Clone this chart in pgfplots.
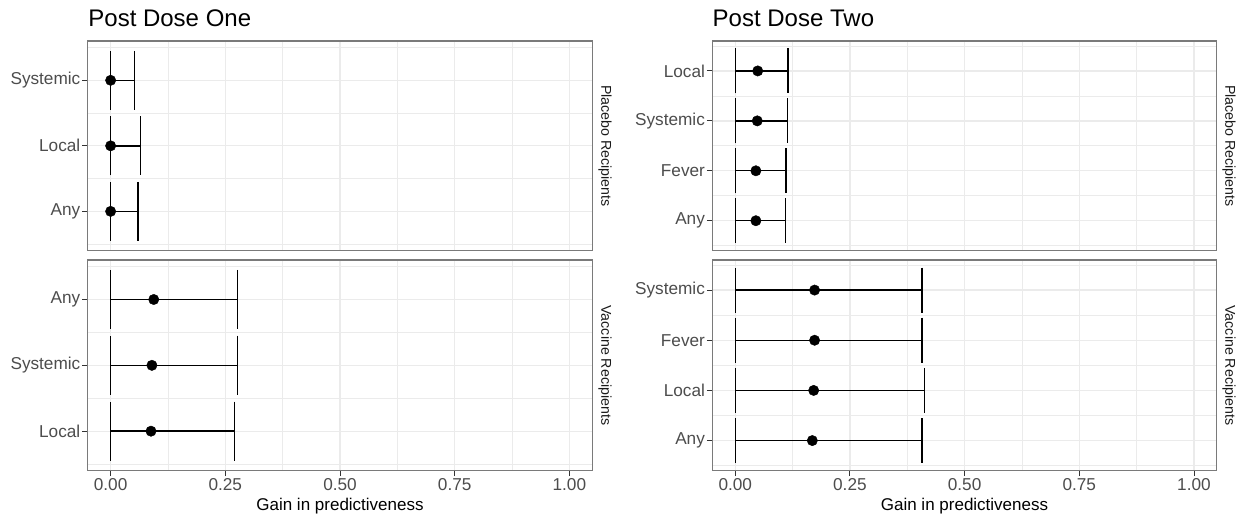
\documentclass[border=0pt]{standalone}
\usepackage{fontspec}
\setmainfont{Liberation Sans}
\usepackage{pgfplots}
\pgfplotsset{compat=1.18}
\usepackage{pgfplotstable}
\definecolor{gridc}{HTML}{EBEBEB}
\definecolor{g30}{HTML}{4D4D4D}
\definecolor{g20}{HTML}{333333}
\definecolor{bord}{HTML}{7A7A7A}
\definecolor{g10}{HTML}{1A1A1A}

% Post Dose One, Placebo: Any=1, Local=2, Systemic=3
\pgfplotstableread{
pos est lo hi
1 0.000 0 0.060
2 0.000 0 0.065
3 0.000 0 0.052
}\tabA
% Post Dose One, Vaccine: Local=1, Systemic=2, Any=3
\pgfplotstableread{
pos est lo hi
1 0.088 0 0.270
2 0.090 0 0.277
3 0.094 0 0.277
}\tabB
% Post Dose Two, Placebo: Any=1, Fever=2, Systemic=3, Local=4
\pgfplotstableread{
pos est lo hi
1 0.045 0 0.110
2 0.045 0 0.111
3 0.048 0 0.114
4 0.049 0 0.115
}\tabC
% Post Dose Two, Vaccine: Any=1, Local=2, Fever=3, Systemic=4
\pgfplotstableread{
pos est lo hi
1 0.168 0 0.407
2 0.171 0 0.412
3 0.173 0 0.407
4 0.173 0 0.407
}\tabD

\pgfplotsset{
  panel/.style={
    scale only axis, width=252.3pt,
    xmin=-0.05, xmax=1.05,
    xtick={0,0.25,0.5,0.75,1},
    xticklabels={0.00,0.25,0.50,0.75,1.00},
    minor xtick={0.125,0.375,0.625,0.875},
    grid=both,
    major grid style={gridc, line width=0.65pt},
    minor grid style={gridc, line width=0.35pt},
    axis line style={bord, line width=0.55pt},
    tick style={g20, line width=0.45pt},
    minor tick length=0pt,
    major tick length=2.7pt,
    tick align=outside,
    ytick pos=left, xtick pos=bottom,
    yticklabel style={font=\fontsize{8.6}{10}\selectfont, text=g30, inner sep=0.8pt},
    xticklabel style={font=\fontsize{8.6}{10}\selectfont, text=g30, inner sep=1pt},
    /pgf/number format/assume math mode=true,
    clip=false,
  },
  pts/.style={only marks, mark=*, mark size=2.6pt, black, mark options={fill=black, draw=black, line width=0.2pt},
    error bars/.cd, x dir=both, x explicit,
    error bar style={line width=0.7pt, black},
    error mark options={rotate=90, line width=0.7pt, black, mark size=#1}},
}

\begin{document}
\begin{tikzpicture}
\fill[white] (0,0) rectangle (619.5pt,258.5pt);
\path[use as bounding box] (0,0) rectangle (619.5pt,258.5pt);

% ---------- Post Dose One, Placebo ----------
\begin{axis}[panel, at={(43.85pt,238pt)}, anchor=north west, height=104.85pt,
  ymin=0.4, ymax=3.6, ytick={1,2,3}, yticklabels={Any,Local,Systemic},
  minor ytick={0.5,1.5,2.5,3.5}, xmajorticks=false]
\addplot+[pts=14.75pt] table[x=est, y=pos,
  x error plus expr={max(\thisrow{hi}-\thisrow{est},0.0001)},
  x error minus expr={max(\thisrow{est}-\thisrow{lo},0.0001)}] {\tabA};
\end{axis}

% ---------- Post Dose One, Vaccine ----------
\begin{axis}[panel, at={(43.85pt,128.5pt)}, anchor=north west, height=105.35pt,
  ymin=0.4, ymax=3.6, ytick={1,2,3}, yticklabels={Local,Systemic,Any},
  minor ytick={0.5,1.5,2.5,3.5}]
\addplot+[pts=14.8pt] table[x=est, y=pos,
  x error plus expr={max(\thisrow{hi}-\thisrow{est},0.0001)},
  x error minus expr={max(\thisrow{est}-\thisrow{lo},0.0001)}] {\tabB};
\end{axis}

% ---------- Post Dose Two, Placebo ----------
\begin{axis}[panel, at={(356.15pt,238pt)}, anchor=north west, height=104.85pt,
  ymin=0.4, ymax=4.6, ytick={1,2,3,4}, yticklabels={Any,Fever,Systemic,Local},
  minor ytick={0.5,1.5,2.5,3.5,4.5}, xmajorticks=false]
\addplot+[pts=11.23pt] table[x=est, y=pos,
  x error plus expr={max(\thisrow{hi}-\thisrow{est},0.0001)},
  x error minus expr={max(\thisrow{est}-\thisrow{lo},0.0001)}] {\tabC};
\end{axis}

% ---------- Post Dose Two, Vaccine ----------
\begin{axis}[panel, at={(356.15pt,128.5pt)}, anchor=north west, height=105.35pt,
  ymin=0.4, ymax=4.6, ytick={1,2,3,4}, yticklabels={Any,Local,Fever,Systemic},
  minor ytick={0.5,1.5,2.5,3.5,4.5}]
\addplot+[pts=11.29pt] table[x=est, y=pos,
  x error plus expr={max(\thisrow{hi}-\thisrow{est},0.0001)},
  x error minus expr={max(\thisrow{est}-\thisrow{lo},0.0001)}] {\tabD};
\end{axis}

% titles
\node[anchor=base west, inner sep=0pt, font=\fontsize{12}{14}\selectfont] at (44pt,245pt) {Post Dose One};
\node[anchor=base west, inner sep=0pt, font=\fontsize{12}{14}\selectfont] at (356.15pt,245pt) {Post Dose Two};
% x-axis titles
\node[anchor=base, inner sep=0pt, font=\fontsize{8.5}{10}\selectfont] at (170pt,3.25pt) {Gain in predictiveness};
\node[anchor=base, inner sep=0pt, font=\fontsize{8.5}{10}\selectfont] at (482.25pt,3.25pt) {Gain in predictiveness};
% strip labels
\node[rotate=-90, anchor=center, inner sep=0pt, text=g10, font=\fontsize{7.1}{8}\selectfont] at (302.5pt,185.6pt) {Placebo Recipients};
\node[rotate=-90, anchor=center, inner sep=0pt, text=g10, font=\fontsize{7.1}{8}\selectfont] at (302.5pt,75.8pt) {Vaccine Recipients};
\node[rotate=-90, anchor=center, inner sep=0pt, text=g10, font=\fontsize{7.1}{8}\selectfont] at (614.5pt,185.6pt) {Placebo Recipients};
\node[rotate=-90, anchor=center, inner sep=0pt, text=g10, font=\fontsize{7.1}{8}\selectfont] at (614.5pt,75.8pt) {Vaccine Recipients};
\end{tikzpicture}
\end{document}
